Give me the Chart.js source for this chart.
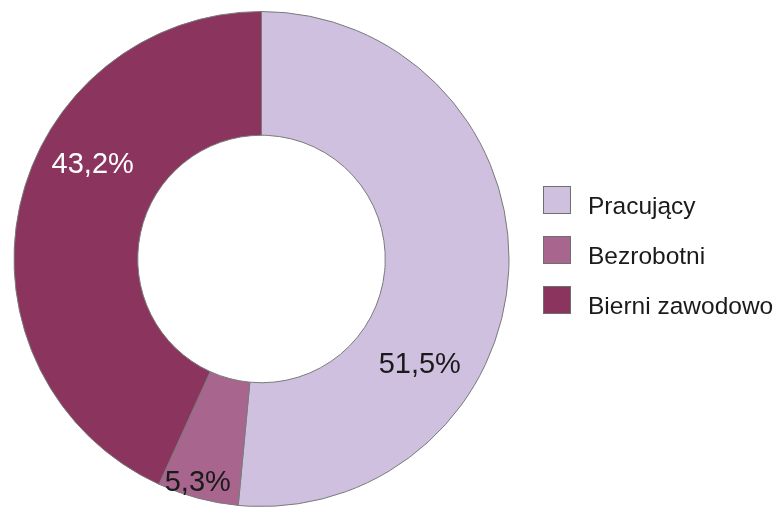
<!DOCTYPE html>
<html><head><meta charset="utf-8">
<script src="https://cdn.jsdelivr.net/npm/chart.js@4/dist/chart.umd.min.js"></script>
<style>html,body{margin:0;padding:0;background:#fff;}#wrap{width:777px;height:508px;position:relative;}</style>
</head><body><div id="wrap"><canvas id="c" width="777" height="508"></canvas></div>
<script>
const categories = ["Pracujący", "Bezrobotni", "Bierni zawodowo"];
const values = [51.5, 5.3, 43.2];
const valueLabels = ["51,5%", "5,3%", "43,2%"];
const colors = ["#cec0de", "#a8668e", "#8b345e"];
const labelColors = ["#1a1a1a", "#1a1a1a", "#ffffff"];
// label placement: fraction along slice angle, fraction of outer radius
const labelAngleFrac = [0.668, 0.55, 0.608];
const labelRadiusFrac = [0.77, 0.94, 0.78];

const labelPlugin = {
  id: 'labels',
  afterDatasetsDraw(chart) {
    const ctx = chart.ctx;
    const meta = chart.getDatasetMeta(0);
    ctx.save();
    ctx.font = '29px "Liberation Sans", Arial, sans-serif';
    ctx.textAlign = 'center';
    ctx.textBaseline = 'middle';
    meta.data.forEach((arc, i) => {
      const p = arc.getProps(['x','y','startAngle','endAngle','outerRadius'], true);
      const a = p.startAngle + (p.endAngle - p.startAngle) * labelAngleFrac[i];
      const r = p.outerRadius * labelRadiusFrac[i];
      ctx.fillStyle = labelColors[i];
      ctx.fillText(valueLabels[i], p.x + Math.cos(a) * r, p.y + Math.sin(a) * r);
    });
    ctx.restore();
  }
};
const legendPlugin = {
  id: 'customLegend',
  afterDraw(chart) {
    const ctx = chart.ctx;
    ctx.save();
    ctx.font = '24.5px "Liberation Sans", Arial, sans-serif';
    ctx.textAlign = 'left';
    ctx.textBaseline = 'alphabetic';
    categories.forEach((c, i) => {
      const y = 186 + i * 50;
      ctx.fillStyle = colors[i];
      ctx.fillRect(543, y, 28, 28);
      ctx.strokeStyle = '#6f6f6f';
      ctx.lineWidth = 1;
      ctx.strokeRect(543.5, y + 0.5, 27, 27);
      ctx.fillStyle = '#1a1a1a';
      ctx.fillText(c, 588, y + 28);
    });
    ctx.restore();
  }
};

new Chart(document.getElementById('c'), {
  type: 'doughnut',
  data: {
    labels: categories,
    datasets: [{
      data: values,
      backgroundColor: colors,
      borderColor: '#7a7a7a',
      borderWidth: 1
    }]
  },
  options: {
    responsive: false,
    animation: false,
    cutout: '50%',
    layout: { padding: { left: 13, right: 267, top: 11, bottom: 1 } },
    plugins: { legend: { display: false }, tooltip: { enabled: false } }
  },
  plugins: [labelPlugin, legendPlugin]
});
</script></body></html>
